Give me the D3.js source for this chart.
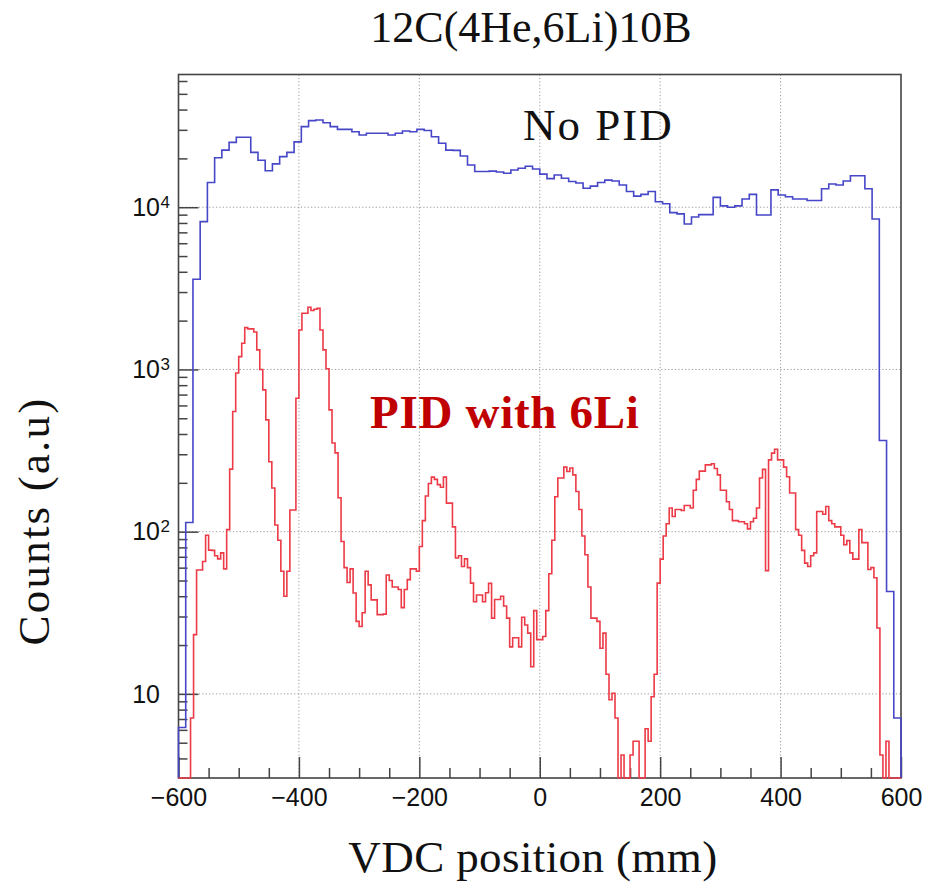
<!DOCTYPE html>
<html><head><meta charset="utf-8">
<script src="https://cdn.jsdelivr.net/npm/d3@7"></script>
<style>body{margin:0;background:#fff}</style>
</head><body>
<svg id="chart" width="937" height="894"></svg>
<script>
// ---------------- data ----------------
const xDomain = [-600, 600];
const yDomain = [3.03, 65800];
const noPidBinWidth = 12;   // mm
const pidBinWidth = 5;      // mm

// "No PID" histogram, 100 bins of 12 mm from -600 mm
const noPidCounts = [
  6.2, 114, 3600, 8150, 14200, 20200, 22500, 25100, 27000, 27000,
  21800, 19500, 16800, 18500, 20500, 21800, 25300, 31400, 34200, 34500,
  33200, 31400, 30200, 30200, 29200, 27900, 28600, 28600, 28600, 27900,
  28600, 29500, 29200, 30200, 29700, 27200, 24800, 22500, 22400, 20700,
  18200, 16600, 16600, 16700, 16500, 16200, 16950, 17400, 17900, 17200,
  16000, 15000, 15800, 15100, 14400, 14100, 13100, 13500, 14200, 14700,
  14500, 13700, 12500, 11700, 12000, 12500, 10800, 10500, 9260, 9100,
  7890, 8700, 9000, 9000, 11500, 10200, 10000, 10200, 11250, 12000,
  8960, 8960, 12800, 11900, 11600, 11250, 11250, 11000, 11000, 13000,
  13900, 13700, 14500, 15650, 15650, 13000, 8470, 365, 42.8, 7.1
];

// "PID with 6Li" histogram, 240 bins of 5 mm from -600 mm
const pidLi6Counts = [
  0, 0, 0, 0, 7.1, 23.2, 58, 58, 65.5, 95,
  77, 76.7, 71, 68, 74, 59, 103, 243, 551, 950,
  1200, 1450, 1810, 1780, 1780, 1700, 1320, 1000, 748, 489,
  270, 186, 110, 88.5, 57, 40, 57, 136, 136, 665,
  1750, 2220, 2220, 2420, 2310, 2350, 2380, 1750, 1320, 1010,
  563, 352, 306, 162, 87, 60, 48.6, 59, 41.9, 28,
  26, 31.6, 57, 47, 38, 38, 30.8, 30.8, 31, 54,
  50, 45.6, 45.6, 44, 34, 44, 50.6, 59, 59, 57,
  81, 117, 166, 198, 217, 210, 195, 188, 217, 150,
  150, 107, 68.8, 71, 61, 68, 60, 48.2, 37, 40.7,
  40.7, 37, 42, 48, 29.3, 38.2, 38.2, 40, 34.8, 29.3,
  19.5, 22.2, 22.2, 19.5, 29.7, 26.6, 23.7, 14.7, 32.6, 21.6,
  21.6, 22.6, 32.6, 55, 88.5, 164, 214, 214, 250, 235,
  247, 224, 177, 137, 94, 72, 45.6, 29.3, 29.3, 28,
  19.1, 23.7, 13.2, 9.2, 10.1, 7.1, 0, 4.2, 0, 0,
  4.2, 5.1, 5.1, 0, 0, 6.1, 5.1, 9.6, 13.2, 48.2,
  67.7, 94, 112, 140, 124, 137, 137, 135, 145, 145,
  140, 180, 210, 236, 236, 258, 258, 262, 245, 224,
  180, 180, 153, 137, 117, 117, 115, 115, 112, 104,
  115, 121, 140, 214, 242, 57.5, 277, 305, 322, 277,
  277, 250, 218, 173, 173, 103, 95, 76.7, 64, 61,
  71, 74, 133, 133, 128, 143, 117, 112, 107, 107,
  95, 83, 88, 74, 67.7, 67.7, 103, 85.6, 85.6, 58.5,
  60, 52, 25.5, 4.2, 0, 5.1, 0, 0, 0, 0
];

const xMajorTicks = [-600, -400, -200, 0, 200, 400, 600];
const xTickLabels = ["\u2212600", "\u2212400", "\u2212200", "0", "200", "400", "600"];
const xGridTicks = [-400, -200, 0, 200, 400];
const xMinorStep = 50;
const yMajorTicks = [10, 100, 1000, 10000];
const yTickBase = ["10", "10", "10", "10"];
const yTickExp = ["", "2", "3", "4"];

const titleText = "12C(4He,6Li)10B";
const xLabelText = "VDC position (mm)";
const yLabelText = "Counts (a.u)";
const noPidLabel = "No PID";
const pidLabel = "PID with 6Li";

// ---------------- layout ----------------
const L = 178.5, R = 901, T = 74.5, B = 778;
const svg = d3.select("#chart");
const x = d3.scaleLinear().domain(xDomain).range([L, R]);
const y = d3.scaleLog().domain(yDomain).range([B, T]);

const serif = "'Liberation Serif', 'DejaVu Serif', serif";
const sans = "'Liberation Sans', Arial, sans-serif";

// grid
const grid = svg.append("g").attr("stroke", "#9a9a9a").attr("stroke-width", 1)
  .attr("stroke-dasharray", "1.2,2.2");
grid.selectAll("line.gx").data(xGridTicks).join("line")
  .attr("x1", d => x(d)).attr("x2", d => x(d)).attr("y1", T).attr("y2", B);
grid.selectAll("line.gy").data(yMajorTicks).join("line")
  .attr("y1", d => y(d)).attr("y2", d => y(d)).attr("x1", L).attr("x2", R);

// minor tick values
const xMinor = d3.range(xDomain[0], xDomain[1] + 1, xMinorStep).filter(v => !xMajorTicks.includes(v));
const yMinor = [];
[1, 10, 100, 1000, 10000].forEach(dec => {
  for (let k = 2; k <= 9; k++) {
    const v = k * dec;
    if (v >= yDomain[0] && v <= yDomain[1]) yMinor.push(v);
  }
});

// axes (ticks pointing inward)
const axisColor = "#444";
const xAxisMinor = svg.append("g").attr("transform", `translate(0,${B})`)
  .call(d3.axisBottom(x).tickValues(xMinor).tickSize(-10).tickFormat(""));
const xAxis = svg.append("g").attr("transform", `translate(0,${B})`)
  .call(d3.axisBottom(x).tickValues(xMajorTicks).tickSize(-21).tickPadding(10)
    .tickFormat((d, i) => xTickLabels[i]));
const yAxisMinor = svg.append("g").attr("transform", `translate(${L},0)`)
  .call(d3.axisLeft(y).tickValues(yMinor).tickSize(-9).tickFormat(""));
const yAxis = svg.append("g").attr("transform", `translate(${L},0)`)
  .call(d3.axisLeft(y).tickValues(yMajorTicks).tickSize(-20).tickFormat(""));

[xAxisMinor, xAxis, yAxisMinor, yAxis].forEach(g => {
  g.select(".domain").remove();
  g.selectAll(".tick line").attr("stroke", axisColor).attr("stroke-width", 1.5);
});
xAxis.selectAll(".tick text").attr("font-family", sans).attr("font-size", 25).attr("fill", "#111");

// y tick labels with superscripts
const yLab = svg.append("g").attr("font-family", sans).attr("fill", "#111");
yMajorTicks.forEach((v, i) => {
  const ty = y(v);
  yLab.append("text").attr("x", 160).attr("y", ty + 8.8).attr("text-anchor", "end")
    .attr("font-size", 25).text(yTickBase[i]);
  if (yTickExp[i]) {
    yLab.append("text").attr("x", 160.5).attr("y", ty + 0.5).attr("text-anchor", "start")
      .attr("font-size", 17).text(yTickExp[i]);
  }
});

// frame
svg.append("rect").attr("x", L).attr("y", T).attr("width", R - L).attr("height", B - T)
  .attr("fill", "none").attr("stroke", axisColor).attr("stroke-width", 1.6);

// histograms
function histPoints(counts, bw) {
  const pts = [[xDomain[0], yDomain[0]]];
  counts.forEach((c, i) => {
    const v = Math.max(c, yDomain[0]);
    const x0 = xDomain[0] + i * bw;
    pts.push([x0, v], [x0 + bw, v]);
  });
  pts.push([xDomain[0] + counts.length * bw, yDomain[0]]);
  return pts;
}
const line = d3.line().x(d => x(d[0])).y(d => y(d[1]));

svg.append("path").datum(histPoints(noPidCounts, noPidBinWidth))
  .attr("d", line).attr("fill", "none").attr("stroke", "#4646c8")
  .attr("stroke-width", 1.6).attr("stroke-linejoin", "miter");
svg.append("path").datum(histPoints(pidLi6Counts, pidBinWidth))
  .attr("d", line).attr("fill", "none").attr("stroke", "#ec3a46")
  .attr("stroke-width", 1.6).attr("stroke-linejoin", "miter");

// texts
svg.append("text").attr("x", 531).attr("y", 42).attr("text-anchor", "middle")
  .attr("font-family", serif).attr("font-size", 44).attr("fill", "#111").text(titleText);
svg.append("text").attr("x", 523).attr("y", 140).attr("text-anchor", "start")
  .attr("font-family", serif).attr("font-size", 45).attr("letter-spacing", 2).attr("fill", "#111").text(noPidLabel);
svg.append("text").attr("x", 370).attr("y", 428).attr("text-anchor", "start")
  .attr("font-family", serif).attr("font-size", 47).attr("font-weight", "bold").attr("letter-spacing", 0.7)
  .attr("fill", "#c00000").text(pidLabel);
svg.append("text").attr("x", 533).attr("y", 872).attr("text-anchor", "middle")
  .attr("font-family", serif).attr("font-size", 45).attr("letter-spacing", 0.4).attr("fill", "#111").text(xLabelText);
svg.append("text").attr("transform", "translate(49,521) rotate(-90)").attr("text-anchor", "middle")
  .attr("font-family", serif).attr("font-size", 45).attr("letter-spacing", 2.2).attr("fill", "#111").text(yLabelText);
</script>
</body></html>
